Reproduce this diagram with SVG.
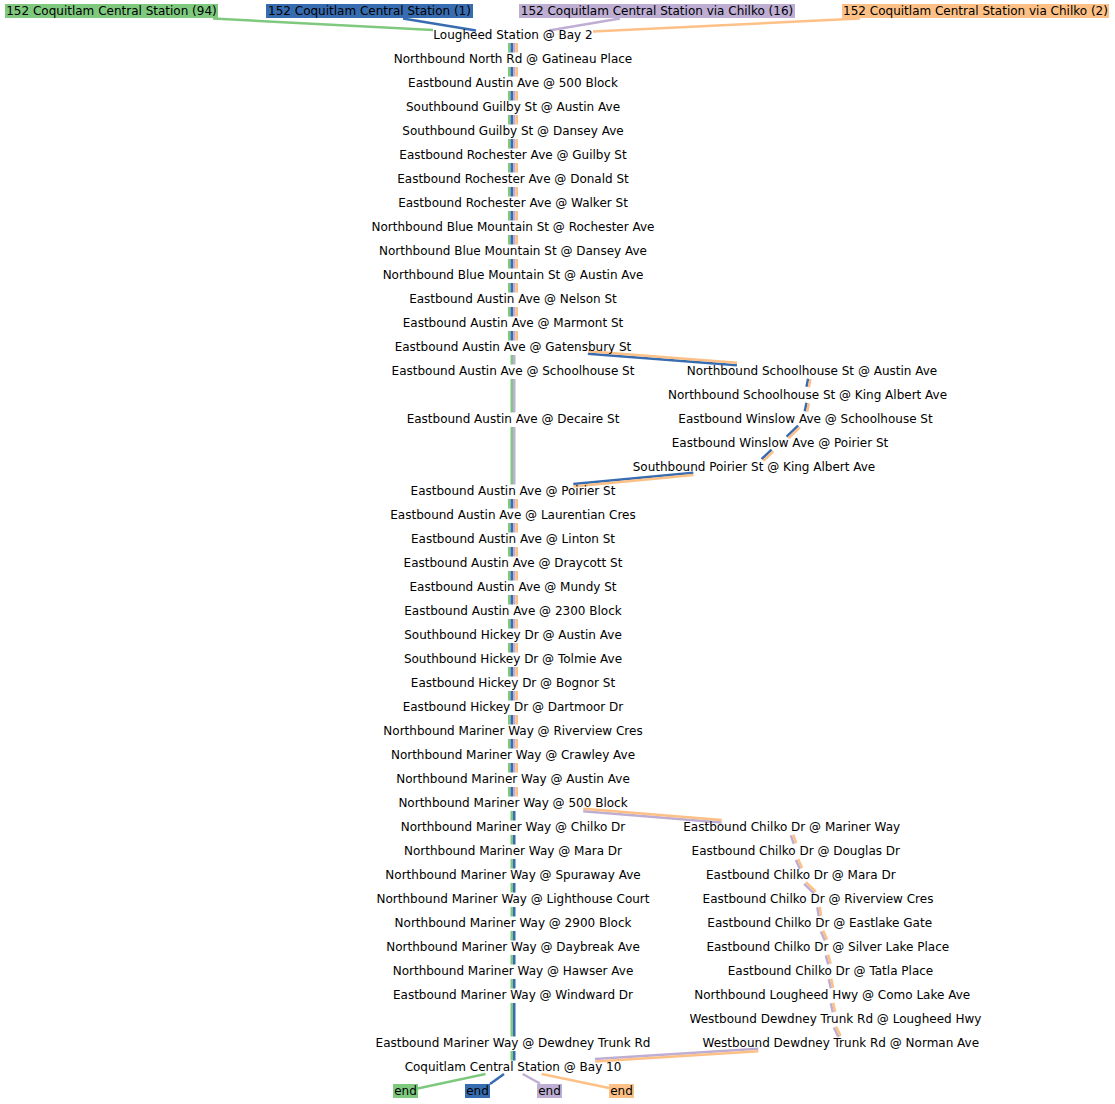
<svg xmlns="http://www.w3.org/2000/svg" width="1115" height="1104" viewBox="0 0 1115 1104">
<style>
text{font-family:"DejaVu Sans","Noto Sans",sans-serif;font-size:12px;text-anchor:middle;fill:#000}
.c path{fill:none;stroke-width:2.5;stroke-linecap:butt}
.g{stroke:#7fc97f}.b{stroke:#386cb0}.p{stroke:#beaed4}.o{stroke:#fdc086}
rect.g{fill:#7fc97f;stroke:none}rect.b{fill:#386cb0;stroke:none}rect.p{fill:#beaed4;stroke:none}rect.o{fill:#fdc086;stroke:none}
</style>
<rect width="1115" height="1104" fill="#fff"/>
<g id="connectors" class="c">
<path class="g" d="M213 18.5L433 30"/>
<path class="b" d="M403 18.5L476 30.5"/>
<path class="p" d="M620 18.5L549 30.5"/>
<path class="o" d="M860 18.5L593 31.5"/>
<path class="g" d="M509.25 43V52.5M509.25 67V76.5M509.25 91V100.5M509.25 115V124.5M509.25 139V148.5M509.25 163V172.5M509.25 187V196.5M509.25 211V220.5M509.25 235V244.5M509.25 259V268.5M509.25 283V292.5M509.25 307V316.5M509.25 331V340.5M511.75 355V364.5M511.75 379V412.5M511.75 427V484.5M509.25 499V508.5M509.25 523V532.5M509.25 547V556.5M509.25 571V580.5M509.25 595V604.5M509.25 619V628.5M509.25 643V652.5M509.25 667V676.5M509.25 691V700.5M509.25 715V724.5M509.25 739V748.5M509.25 763V772.5M509.25 787V796.5M511.75 811V820.5M511.75 835V844.5M511.75 859V868.5M511.75 883V892.5M511.75 907V916.5M511.75 931V940.5M511.75 955V964.5M511.75 979V988.5M511.75 1003V1036.5M511.75 1051V1060.5"/>
<path class="b" d="M511.75 43V52.5M511.75 67V76.5M511.75 91V100.5M511.75 115V124.5M511.75 139V148.5M511.75 163V172.5M511.75 187V196.5M511.75 211V220.5M511.75 235V244.5M511.75 259V268.5M511.75 283V292.5M511.75 307V316.5M511.75 331V340.5M511.75 499V508.5M511.75 523V532.5M511.75 547V556.5M511.75 571V580.5M511.75 595V604.5M511.75 619V628.5M511.75 643V652.5M511.75 667V676.5M511.75 691V700.5M511.75 715V724.5M511.75 739V748.5M511.75 763V772.5M511.75 787V796.5M514.25 811V820.5M514.25 835V844.5M514.25 859V868.5M514.25 883V892.5M514.25 907V916.5M514.25 931V940.5M514.25 955V964.5M514.25 979V988.5M514.25 1003V1036.5M514.25 1051V1060.5"/>
<path class="p" d="M514.25 43V52.5M514.25 67V76.5M514.25 91V100.5M514.25 115V124.5M514.25 139V148.5M514.25 163V172.5M514.25 187V196.5M514.25 211V220.5M514.25 235V244.5M514.25 259V268.5M514.25 283V292.5M514.25 307V316.5M514.25 331V340.5M514.25 355V364.5M514.25 379V412.5M514.25 427V484.5M514.25 499V508.5M514.25 523V532.5M514.25 547V556.5M514.25 571V580.5M514.25 595V604.5M514.25 619V628.5M514.25 643V652.5M514.25 667V676.5M514.25 691V700.5M514.25 715V724.5M514.25 739V748.5M514.25 763V772.5M514.25 787V796.5"/>
<path class="o" d="M516.75 43V52.5M516.75 67V76.5M516.75 91V100.5M516.75 115V124.5M516.75 139V148.5M516.75 163V172.5M516.75 187V196.5M516.75 211V220.5M516.75 235V244.5M516.75 259V268.5M516.75 283V292.5M516.75 307V316.5M516.75 331V340.5M516.75 499V508.5M516.75 523V532.5M516.75 547V556.5M516.75 571V580.5M516.75 595V604.5M516.75 619V628.5M516.75 643V652.5M516.75 667V676.5M516.75 691V700.5M516.75 715V724.5M516.75 739V748.5M516.75 763V772.5M516.75 787V796.5"/>
<path class="b" d="M587.9 353.75L736.9 365.25M808.1 378.8L806.5 386.8M806.5 402.8L804.8 411.3M798.1 425.6L786.6 436.6M771.6 449.6L761.6 459.1M693.3 472.7L573.3 484"/>
<path class="o" d="M588.1 351.25L737.1 362.75M810.5 379.2L808.9 387.2M808.9 403.2L807.2 411.7M799.9 427.4L788.4 438.4M773.4 451.4L763.4 460.9M693.5 475.1L573.5 486.4"/>
<path class="p" d="M583.2 811.25L721.6 822.55M790.8 835.4L793.8 843.9M795.9 860L799.9 869M804.1 883.9L814.1 893.4M817.3 907.2L818.8 916.2M820.9 931.5L824.9 940.5M825.8 955.3L828.3 964.3M828.8 979.3L830.8 988.3M830.8 1003.3L832.8 1012.3M833.9 1027.5L838.4 1037M758.2 1048.75L594.9 1059.05"/>
<path class="o" d="M583.4 808.75L721.8 820.05M793.2 834.6L796.2 843.1M798.1 859L802.1 868M805.9 882.1L815.9 891.6M819.7 906.8L821.2 915.8M823.1 930.5L827.1 939.5M828.2 954.7L830.7 963.7M831.2 978.7L833.2 987.7M833.2 1002.7L835.2 1011.7M836.1 1026.5L840.6 1036M758.4 1051.25L595.1 1061.55"/>
<path class="g" d="M485.5 1074L417.5 1088.5"/>
<path class="b" d="M504 1074L490 1084"/>
<path class="p" d="M522.7 1074L540 1083.5"/>
<path class="o" d="M541.7 1074L609 1088"/>
</g>
<g id="label-94"><rect class="g" x="5" y="4" width="213" height="14"/><text x="111.5" y="15">152 Coquitlam Central Station (94)</text></g>
<g id="label-1"><rect class="b" x="266" y="4" width="207" height="14"/><text x="369.5" y="15">152 Coquitlam Central Station (1)</text></g>
<g id="label-16"><rect class="p" x="519" y="4" width="276" height="14"/><text x="657" y="15">152 Coquitlam Central Station via Chilko (16)</text></g>
<g id="label-2"><rect class="o" x="842" y="4" width="267" height="14"/><text x="975.5" y="15">152 Coquitlam Central Station via Chilko (2)</text></g>
<g id="n0"><text x="513" y="39">Lougheed Station @ Bay 2</text></g>
<g id="n1"><text x="513" y="63">Northbound North Rd @ Gatineau Place</text></g>
<g id="n2"><text x="513" y="87">Eastbound Austin Ave @ 500 Block</text></g>
<g id="n3"><text x="513" y="111">Southbound Guilby St @ Austin Ave</text></g>
<g id="n4"><text x="513" y="135">Southbound Guilby St @ Dansey Ave</text></g>
<g id="n5"><text x="513" y="159">Eastbound Rochester Ave @ Guilby St</text></g>
<g id="n6"><text x="513" y="183">Eastbound Rochester Ave @ Donald St</text></g>
<g id="n7"><text x="513" y="207">Eastbound Rochester Ave @ Walker St</text></g>
<g id="n8"><text x="513" y="231">Northbound Blue Mountain St @ Rochester Ave</text></g>
<g id="n9"><text x="513" y="255">Northbound Blue Mountain St @ Dansey Ave</text></g>
<g id="n10"><text x="513" y="279">Northbound Blue Mountain St @ Austin Ave</text></g>
<g id="n11"><text x="513" y="303">Eastbound Austin Ave @ Nelson St</text></g>
<g id="n12"><text x="513" y="327">Eastbound Austin Ave @ Marmont St</text></g>
<g id="n13"><text x="513" y="351">Eastbound Austin Ave @ Gatensbury St</text></g>
<g id="n14"><text x="513" y="375">Eastbound Austin Ave @ Schoolhouse St</text></g>
<g id="n16"><text x="513" y="423">Eastbound Austin Ave @ Decaire St</text></g>
<g id="n19"><text x="513" y="495">Eastbound Austin Ave @ Poirier St</text></g>
<g id="n20"><text x="513" y="519">Eastbound Austin Ave @ Laurentian Cres</text></g>
<g id="n21"><text x="513" y="543">Eastbound Austin Ave @ Linton St</text></g>
<g id="n22"><text x="513" y="567">Eastbound Austin Ave @ Draycott St</text></g>
<g id="n23"><text x="513" y="591">Eastbound Austin Ave @ Mundy St</text></g>
<g id="n24"><text x="513" y="615">Eastbound Austin Ave @ 2300 Block</text></g>
<g id="n25"><text x="513" y="639">Southbound Hickey Dr @ Austin Ave</text></g>
<g id="n26"><text x="513" y="663">Southbound Hickey Dr @ Tolmie Ave</text></g>
<g id="n27"><text x="513" y="687">Eastbound Hickey Dr @ Bognor St</text></g>
<g id="n28"><text x="513" y="711">Eastbound Hickey Dr @ Dartmoor Dr</text></g>
<g id="n29"><text x="513" y="735">Northbound Mariner Way @ Riverview Cres</text></g>
<g id="n30"><text x="513" y="759">Northbound Mariner Way @ Crawley Ave</text></g>
<g id="n31"><text x="513" y="783">Northbound Mariner Way @ Austin Ave</text></g>
<g id="n32"><text x="513" y="807">Northbound Mariner Way @ 500 Block</text></g>
<g id="n33"><text x="513" y="831">Northbound Mariner Way @ Chilko Dr</text></g>
<g id="n34"><text x="513" y="855">Northbound Mariner Way @ Mara Dr</text></g>
<g id="n35"><text x="513" y="879">Northbound Mariner Way @ Spuraway Ave</text></g>
<g id="n36"><text x="513" y="903">Northbound Mariner Way @ Lighthouse Court</text></g>
<g id="n37"><text x="513" y="927">Northbound Mariner Way @ 2900 Block</text></g>
<g id="n38"><text x="513" y="951">Northbound Mariner Way @ Daybreak Ave</text></g>
<g id="n39"><text x="513" y="975">Northbound Mariner Way @ Hawser Ave</text></g>
<g id="n40"><text x="513" y="999">Eastbound Mariner Way @ Windward Dr</text></g>
<g id="n42"><text x="513" y="1047">Eastbound Mariner Way @ Dewdney Trunk Rd</text></g>
<g id="n43"><text x="513" y="1071">Coquitlam Central Station @ Bay 10</text></g>
<g id="s1"><text x="812" y="375">Northbound Schoolhouse St @ Austin Ave</text></g>
<g id="s2"><text x="807.5" y="399">Northbound Schoolhouse St @ King Albert Ave</text></g>
<g id="s3"><text x="805.5" y="423">Eastbound Winslow Ave @ Schoolhouse St</text></g>
<g id="s4"><text x="780" y="447">Eastbound Winslow Ave @ Poirier St</text></g>
<g id="s5"><text x="754" y="471">Southbound Poirier St @ King Albert Ave</text></g>
<g id="c1"><text x="791.7" y="831">Eastbound Chilko Dr @ Mariner Way</text></g>
<g id="c2"><text x="795.8" y="855">Eastbound Chilko Dr @ Douglas Dr</text></g>
<g id="c3"><text x="800.8" y="879">Eastbound Chilko Dr @ Mara Dr</text></g>
<g id="c4"><text x="818" y="903">Eastbound Chilko Dr @ Riverview Cres</text></g>
<g id="c5"><text x="819.7" y="927">Eastbound Chilko Dr @ Eastlake Gate</text></g>
<g id="c6"><text x="827.8" y="951">Eastbound Chilko Dr @ Silver Lake Place</text></g>
<g id="c7"><text x="830.5" y="975">Eastbound Chilko Dr @ Tatla Place</text></g>
<g id="c8"><text x="832.2" y="999">Northbound Lougheed Hwy @ Como Lake Ave</text></g>
<g id="c9"><text x="835.5" y="1023">Westbound Dewdney Trunk Rd @ Lougheed Hwy</text></g>
<g id="c10"><text x="840.8" y="1047">Westbound Dewdney Trunk Rd @ Norman Ave</text></g>
<g id="end-94"><rect class="g" x="393" y="1084" width="25" height="14"/><text x="405.5" y="1095">end</text></g>
<g id="end-1"><rect class="b" x="465" y="1084" width="25" height="14"/><text x="477.5" y="1095">end</text></g>
<g id="end-16"><rect class="p" x="537" y="1084" width="25" height="14"/><text x="549.5" y="1095">end</text></g>
<g id="end-2"><rect class="o" x="609" y="1084" width="25" height="14"/><text x="621.5" y="1095">end</text></g>
</svg>
